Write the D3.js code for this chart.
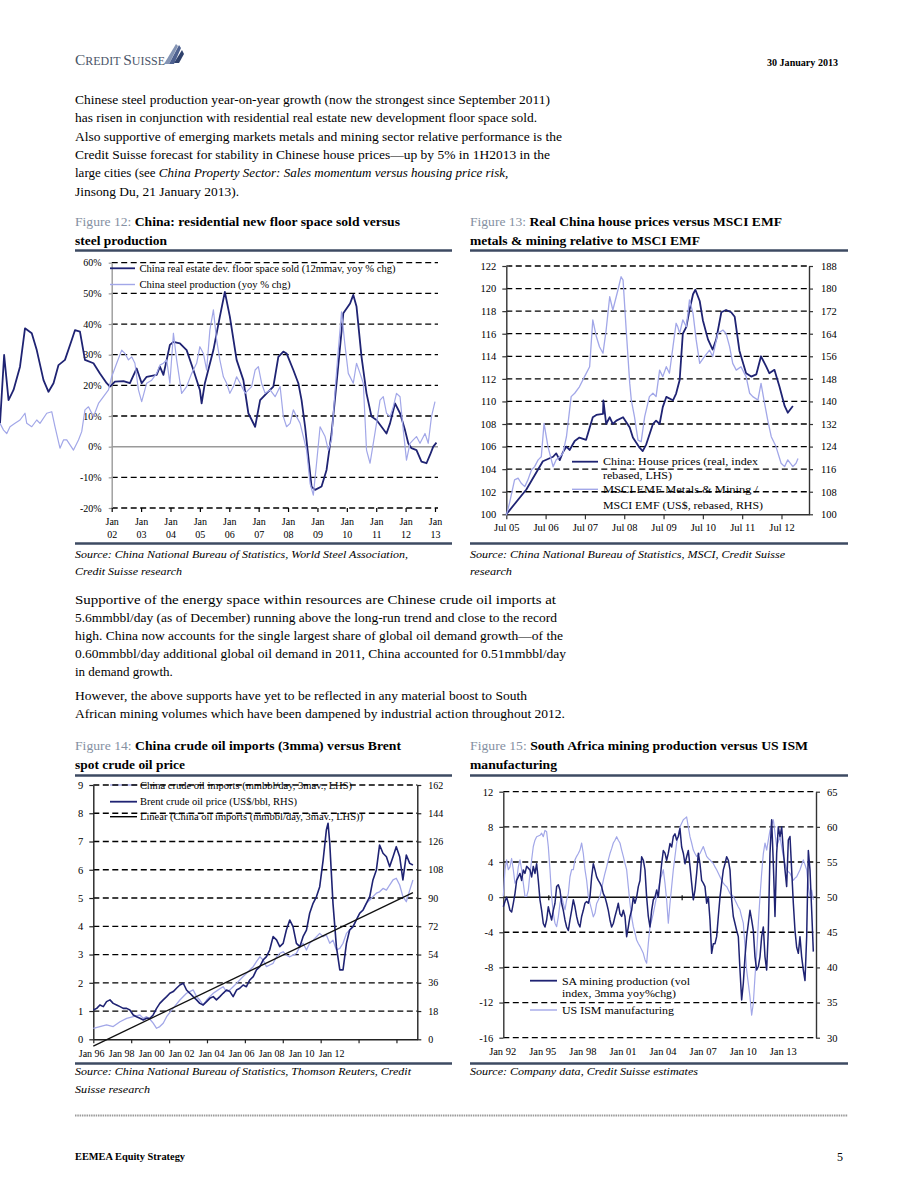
<!DOCTYPE html>
<html><head><meta charset="utf-8">
<script src="https://cdn.jsdelivr.net/npm/d3@7"></script>
<style>
body{margin:0;background:#fff}
svg{display:block}
</style></head><body><svg id="c" width="920" height="1191"></svg>
<script>
// ---------------- DATA ----------------
// Figure 12
const fig12Ticks = [-20,-10,0,10,20,30,40,50,60];
const fig12Years = [2002,2003,2004,2005,2006,2007,2008,2009,2010,2011,2012,2013];
const floorYears = [1998.20,1998.34,1998.49,1998.66,1998.88,1999.05,1999.28,1999.45,1999.68,1999.85,2000.02,2000.19,2000.41,2000.64,2000.75,2000.92,2001.09,2001.38,2001.60,2001.83,2001.94,2002.11,2002.40,2002.62,2002.85,2003.02,2003.19,2003.53,2003.64,2003.76,2003.98,2004.10,2004.32,2004.55,2004.78,2005.00,2005.06,2005.17,2005.46,2005.68,2005.85,2006.02,2006.25,2006.48,2006.65,2006.88,2007.05,2007.27,2007.50,2007.67,2007.84,2007.95,2008.18,2008.35,2008.46,2008.58,2008.69,2008.80,2008.92,2009.14,2009.31,2009.48,2009.65,2009.88,2010.11,2010.22,2010.33,2010.50,2010.67,2010.84,2011.01,2011.18,2011.35,2011.47,2011.64,2011.81,2011.98,2012.09,2012.20,2012.37,2012.54,2012.71,2012.83,2012.94,2013.05];
const floorSold = [7.6,29.9,15.2,18.5,26.1,38.6,37.0,31.5,21.7,17.9,20.7,26.6,28.3,34.8,38.0,37.5,28.3,27.2,23.9,20.7,19.6,21.2,21.4,20.7,25.5,20.7,22.8,23.4,26.1,23.4,33.2,34.2,33.7,31.5,25.0,18.5,14.1,20.7,31.5,42.4,50.5,42.4,28.3,21.7,10.9,6.5,15.2,17.4,19.6,29.3,31.0,30.4,25.0,20.7,15.2,6.5,-3.3,-13.0,-14.1,-13.0,-7.6,4.3,20.7,43.5,46.7,49.5,45.7,29.3,17.4,9.8,8.7,6.5,4.3,7.6,14.1,10.9,5.4,1.1,-0.5,-1.1,-4.9,-5.4,-2.7,0.0,1.3];
const steelYears = [1998.20,1998.32,1998.43,1998.54,1998.71,1998.88,1999.05,1999.11,1999.28,1999.45,1999.56,1999.79,1999.96,2000.07,2000.24,2000.36,2000.47,2000.70,2000.87,2000.98,2001.09,2001.21,2001.38,2001.55,2001.72,2001.89,2002.00,2002.17,2002.34,2002.45,2002.57,2002.68,2002.79,2002.91,2003.02,2003.19,2003.36,2003.53,2003.64,2003.76,2003.87,2003.98,2004.10,2004.21,2004.38,2004.55,2004.72,2004.89,2005.00,2005.12,2005.23,2005.34,2005.46,2005.57,2005.68,2005.80,2005.91,2006.02,2006.14,2006.25,2006.37,2006.54,2006.65,2006.76,2006.88,2006.99,2007.10,2007.22,2007.39,2007.56,2007.73,2007.84,2007.95,2008.07,2008.18,2008.29,2008.41,2008.52,2008.63,2008.75,2008.86,2008.97,2009.09,2009.26,2009.37,2009.48,2009.60,2009.71,2009.82,2009.93,2010.05,2010.22,2010.33,2010.45,2010.56,2010.67,2010.79,2010.90,2011.01,2011.13,2011.24,2011.35,2011.47,2011.58,2011.69,2011.81,2011.92,2012.03,2012.15,2012.26,2012.37,2012.49,2012.66,2012.77,2012.88,2013.00];
const steelProd = [7.6,5.4,4.3,6.5,7.6,8.7,10.9,7.6,6.5,8.7,7.6,10.9,11.4,6.5,-0.5,2.2,2.2,-1.1,2.2,4.9,12.0,13.0,9.8,14.1,16.3,18.5,22.8,27.2,31.5,30.4,28.3,29.3,27.2,18.5,14.7,20.7,21.7,23.9,26.6,27.2,28.3,20.7,37.0,28.3,17.4,19.6,23.9,27.2,32.6,30.4,25.0,38.0,44.6,34.8,28.3,22.8,20.7,17.4,19.6,22.8,20.7,17.4,18.5,19.6,25.0,26.1,20.7,17.4,18.5,16.3,19.6,9.8,6.5,7.6,12.0,9.8,7.6,3.3,-1.1,-12.0,-15.8,-5.4,6.5,3.3,-1.1,2.2,18.5,31.5,44.0,33.7,23.9,20.7,27.2,23.9,20.7,-1.1,-5.4,1.1,7.6,15.2,16.3,10.9,9.8,13.0,17.4,16.3,5.4,-4.4,1.1,2.2,3.3,1.1,4.3,1.1,9.8,14.7];

// Figure 13
const fig13LeftTicks = [100,102,104,106,108,110,112,114,116,118,120,122];
const fig13RightTicks = [100,108,116,124,132,140,148,156,164,172,180,188];
const fig13Jul = [2005.5,2006.5,2007.5,2008.5,2009.5,2010.5,2011.5,2012.5];
const houseYears = [2005.50,2006.01,2006.43,2006.69,2006.77,2006.86,2006.94,2007.03,2007.11,2007.24,2007.36,2007.53,2007.70,2007.79,2007.96,2007.97,2008.04,2008.13,2008.21,2008.30,2008.47,2008.64,2008.72,2008.89,2008.97,2009.06,2009.23,2009.31,2009.40,2009.48,2009.57,2009.74,2009.82,2009.91,2009.99,2010.08,2010.16,2010.25,2010.31,2010.42,2010.50,2010.63,2010.75,2010.84,2010.97,2011.09,2011.22,2011.31,2011.43,2011.60,2011.73,2011.86,2011.98,2012.11,2012.19,2012.32,2012.45,2012.58,2012.66,2012.79];
const housePrices = [100.0,102.2,104.7,105.1,105.4,104.8,105.5,106.0,105.7,106.5,106.8,106.6,108.6,108.8,108.9,110.1,108.0,108.6,108.0,108.3,108.6,107.7,106.8,105.9,105.6,106.2,108.0,108.3,108.0,109.5,110.4,110.1,110.7,111.9,116.0,116.6,118.1,119.5,119.9,118.9,117.2,115.5,114.6,115.5,117.9,118.1,117.9,117.5,114.5,112.5,112.2,112.4,114.0,113.1,112.5,112.8,111.3,109.6,109.0,109.6];
const msciYears = [2005.50,2005.58,2005.71,2005.80,2005.88,2005.97,2006.05,2006.14,2006.22,2006.31,2006.39,2006.46,2006.56,2006.69,2006.77,2006.86,2006.94,2007.03,2007.15,2007.24,2007.36,2007.49,2007.62,2007.70,2007.79,2007.87,2007.96,2008.04,2008.13,2008.21,2008.34,2008.42,2008.47,2008.55,2008.64,2008.68,2008.76,2008.85,2008.93,2009.02,2009.14,2009.23,2009.31,2009.40,2009.48,2009.57,2009.65,2009.74,2009.82,2009.86,2009.91,2009.99,2010.08,2010.16,2010.25,2010.33,2010.42,2010.54,2010.67,2010.75,2010.88,2011.01,2011.09,2011.18,2011.26,2011.35,2011.47,2011.60,2011.69,2011.77,2011.90,2011.98,2012.07,2012.15,2012.24,2012.36,2012.49,2012.58,2012.66,2012.79,2012.87,2012.92];
const msciRel = [99.6,103.9,112.2,112.8,111.0,109.8,112.2,115.7,116.9,119.3,120.4,132.2,124.0,116.9,119.3,120.4,121.6,127.5,141.7,142.9,145.2,148.8,152.3,168.9,163.0,159.4,157.1,165.3,177.1,172.4,179.5,184.2,183.0,165.3,146.4,140.5,134.6,126.3,125.7,134.6,141.7,142.9,141.7,151.1,148.8,152.3,150.0,159.4,167.7,166.5,164.1,168.9,166.5,176.0,171.2,161.8,153.5,155.9,158.2,155.9,164.1,165.3,164.1,159.4,153.5,151.1,152.3,148.8,142.9,141.7,140.5,146.4,139.3,133.4,127.5,124.0,118.1,116.9,119.3,116.9,118.1,119.8];

// Figure 14
const fig14LeftTicks = [0,1,2,3,4,5,6,7,8,9];
const fig14RightTicks = [0,18,36,54,72,90,108,126,144,162];
const fig14TickYears = [1996,1998,2000,2002,2004,2006,2008,2010,2012];
const fig14Labels = ["Jan 96","Jan 98","Jan 00","Jan 02","Jan 04","Jan 06","Jan 08","Jan 10","Jan 12"];
const importYears = [1996.00,1996.35,1996.70,1997.05,1997.41,1997.76,1998.11,1998.46,1998.64,1998.81,1998.99,1999.16,1999.34,1999.51,1999.69,1999.87,2000.22,2000.57,2000.92,2001.27,2001.45,2001.62,2001.80,2001.98,2002.15,2002.33,2002.59,2002.85,2003.03,2003.21,2003.38,2003.56,2003.73,2003.91,2004.08,2004.26,2004.44,2004.61,2004.79,2004.96,2005.14,2005.31,2005.49,2005.67,2005.84,2006.02,2006.19,2006.37,2006.54,2006.72,2006.90,2007.07,2007.25,2007.42,2007.60,2007.78,2007.95,2008.13,2008.30,2008.48,2008.65,2008.83,2009.01,2009.18,2009.36,2009.53,2009.71,2009.88,2010.06,2010.24,2010.41,2010.59,2010.76,2010.94,2011.11,2011.29,2011.47,2011.64,2011.82,2011.99,2012.17,2012.34,2012.52,2012.70,2012.87];
const oilImports = [0.39,0.45,0.51,0.45,0.62,0.74,0.80,0.86,0.74,0.80,0.71,0.57,0.39,0.45,0.57,0.80,1.10,1.39,1.63,1.75,1.51,1.39,1.21,1.39,1.51,1.63,1.75,1.86,1.69,1.75,1.86,1.98,2.10,2.22,2.33,2.45,2.57,2.75,2.92,2.81,2.57,2.63,2.69,2.92,3.04,3.10,2.98,2.92,2.98,3.04,3.28,3.40,3.16,3.40,3.51,3.63,3.75,3.63,3.69,3.40,3.51,3.16,3.22,3.40,3.75,3.87,3.99,4.22,4.46,4.58,4.81,4.93,5.05,5.17,5.22,5.34,5.28,5.46,5.64,5.70,5.46,5.05,4.87,5.28,5.64];
const brentYears = [1996.00,1996.18,1996.35,1996.53,1996.70,1996.88,1997.05,1997.23,1997.41,1997.58,1997.76,1997.93,1998.11,1998.28,1998.46,1998.64,1998.81,1998.99,1999.16,1999.34,1999.51,1999.69,1999.87,2000.04,2000.22,2000.39,2000.57,2000.75,2000.92,2001.10,2001.27,2001.45,2001.62,2001.80,2001.98,2002.15,2002.33,2002.50,2002.68,2002.85,2003.03,2003.21,2003.38,2003.56,2003.73,2003.91,2004.08,2004.26,2004.44,2004.61,2004.79,2004.96,2005.14,2005.31,2005.49,2005.67,2005.84,2006.02,2006.19,2006.37,2006.54,2006.72,2006.90,2007.07,2007.25,2007.42,2007.60,2007.78,2007.95,2008.13,2008.30,2008.39,2008.48,2008.65,2008.83,2009.01,2009.18,2009.36,2009.53,2009.71,2009.88,2010.06,2010.24,2010.41,2010.59,2010.76,2010.94,2011.11,2011.29,2011.47,2011.64,2011.82,2011.99,2012.17,2012.34,2012.52,2012.70,2012.87];
const brentPrice = [18.7,19.7,21.9,20.8,24.0,25.1,22.9,21.9,20.8,19.7,19.7,18.7,15.5,14.4,13.4,12.3,13.4,13.4,15.5,19.7,22.9,25.1,27.2,29.3,30.4,32.5,34.6,35.7,31.4,29.3,27.2,25.1,22.9,21.9,24.0,26.1,27.2,25.1,27.2,29.3,31.4,30.4,27.2,31.4,32.5,34.6,33.5,37.8,39.9,44.2,46.3,50.5,52.7,56.9,65.4,63.3,59.0,61.1,69.6,76.0,71.8,61.1,59.0,65.4,69.6,80.3,86.6,90.9,97.2,114.2,133.3,137.6,124.8,86.6,59.0,44.2,44.2,61.1,69.6,71.8,76.0,80.3,82.4,86.6,90.9,101.5,107.9,123.8,118.5,116.3,110.0,116.3,122.7,116.3,101.5,117.4,112.1,111.0];
const trendYears = [1996.0, 2012.87];
const trendValues = [-0.24, 5.19];

// Figure 15 (one value per observation, category axis)
const fig15LeftTicks = [-16,-12,-8,-4,0,4,8,12];
const fig15RightTicks = [30,35,40,45,50,55,60,65];
const fig15Labels = ["Jan 92","Jan 95","Jan 98","Jan 01","Jan 04","Jan 07","Jan 10","Jan 13"];
const saMining = [-1.1,-0.5,0.0,-0.7,-1.5,-1.7,-0.7,0.4,1.9,2.3,2.7,1.9,3.1,2.7,3.5,3.3,3.1,2.3,3.5,2.7,3.8,1.9,-0.3,-1.5,-3.0,-3.4,-2.6,-1.1,-1.9,-2.6,-1.5,-0.7,1.2,1.4,0.8,-0.7,-1.5,-2.6,-3.4,-3.8,-2.6,-1.5,-0.3,-1.1,-2.2,-3.0,-3.4,-2.2,-1.5,-0.7,-0.5,-0.7,0.0,2.3,3.8,3.1,2.3,1.9,1.6,1.2,0.4,0.0,-0.7,-1.5,-2.6,-3.4,-3.0,-2.2,-1.5,-0.7,-1.9,-2.2,-1.5,-2.2,-4.5,-3.4,-2.2,-1.5,0.0,-0.7,0.0,1.2,1.9,4.6,4.2,3.1,0.0,-2.2,-3.4,-1.5,-0.3,0.0,0.8,0.0,1.9,3.8,5.3,5.0,4.2,5.0,6.1,5.7,6.9,7.2,6.5,6.9,7.8,5.7,5.0,3.8,4.6,5.3,3.5,1.6,-0.3,0.8,2.7,5.0,3.8,1.9,1.6,1.2,-0.7,0.0,-2.6,-6.4,-5.3,-5.3,-4.5,-2.2,0.0,1.6,3.1,3.8,4.6,4.2,3.1,-0.3,-2.2,-3.0,-3.8,-4.5,-8.3,-11.7,-9.8,-6.8,-4.5,-3.0,-1.5,-2.6,-3.8,-6.8,-8.3,-7.9,-6.8,-4.5,-3.4,-6.8,-8.3,-3.8,5.0,8.8,3.8,-2.2,5.0,8.0,6.9,8.0,5.3,3.1,1.2,6.5,6.9,3.1,-0.7,-3.8,-5.7,-6.4,-4.5,-6.8,-8.3,-9.5,-4.5,5.3,3.1,-1.5,-6.2];
const usIsm = [50.1,53.9,55.3,53.9,54.3,55.5,53.9,52.0,52.4,54.3,55.3,53.9,52.0,50.1,50.1,51.0,53.4,55.3,57.2,58.1,58.6,58.7,58.8,59.1,58.6,59.5,59.3,57.2,53.9,50.1,47.7,46.3,45.8,47.2,49.1,50.1,49.1,48.2,49.6,50.5,52.9,53.9,53.9,55.3,55.8,56.2,56.7,57.7,56.2,53.9,52.4,50.1,49.1,48.2,47.2,47.7,49.1,49.6,50.1,51.2,52.4,53.4,54.3,55.3,56.2,56.9,57.7,58.1,58.6,58.1,57.7,56.7,55.8,54.8,53.9,51.5,49.1,47.2,45.8,44.9,43.9,43.4,43.0,42.5,42.0,41.1,40.6,43.4,45.8,46.7,47.7,48.9,50.1,51.2,52.4,53.1,53.9,52.0,49.6,46.3,49.1,51.5,53.9,55.8,57.7,58.8,60.0,60.5,61.0,61.2,61.4,60.0,58.6,57.7,56.7,56.2,55.8,56.0,56.2,56.7,57.2,56.5,55.8,55.5,55.3,55.0,54.8,54.3,53.9,53.4,52.9,52.4,52.0,51.7,51.5,51.0,50.5,50.3,50.1,49.6,49.1,48.6,48.2,47.2,46.3,43.0,39.6,37.7,35.8,33.2,34.9,38.7,42.0,46.3,50.1,53.4,56.2,57.7,56.7,58.1,59.5,60.3,61.0,59.1,57.2,57.9,58.6,57.2,55.8,54.8,53.9,53.6,53.4,52.9,52.4,52.7,52.9,53.4,53.9,54.6,55.3,54.6,53.9,51.5,50.1,51.0,49.6];

// Text
const para1 = [
  "Chinese steel production year-on-year growth (now the strongest since September 2011)",
  "has risen in conjunction with residential real estate new development floor space sold.",
  "Also supportive of emerging markets metals and mining sector relative performance is the",
  "Credit Suisse forecast for stability in Chinese house prices\u2014up by 5% in 1H2013 in the",
  [["large cities (see "],["China Property Sector: Sales momentum versus housing price risk,",{"font-style":"italic"}]],
  "Jinsong Du, 21 January 2013)."
];
const para1W = [475,462,487,475,null,164];
const para2 = [
  "Supportive of the energy space within resources are Chinese crude oil imports at",
  "5.6mmbbl/day (as of December) running above the long-run trend and close to the record",
  "high. China now accounts for the single largest share of global oil demand growth\u2014of the",
  "0.60mmbbl/day additional global oil demand in 2011, China accounted for 0.51mmbbl/day",
  "in demand growth."
];
const para2W = [481,482,488,491,null];
const para3 = [
  "However, the above supports have yet to be reflected in any material boost to South",
  "African mining volumes which have been dampened by industrial action throughout 2012."
];
const para3W = [452,490];

// ---------------- DRAWING ----------------
const DARK = '#1f2373', LIGHT = '#a2a7e8', RULE = '#3d4a62', FIGLBL = '#8590a2';
const SERIF = '"Liberation Serif","Times New Roman",serif';
const svg = d3.select('#c');
svg.append('rect').attr('width',920).attr('height',1191).attr('fill','#fff');

function addText(g, x, y, parts, o) {
  o = o || {};
  const t = g.append('text').attr('x', x).attr('y', y)
    .attr('font-family', SERIF).attr('font-size', o.size || 13).attr('fill', o.fill || '#000');
  if (o.weight) t.attr('font-weight', o.weight);
  if (o.style) t.attr('font-style', o.style);
  if (o.anchor) t.attr('text-anchor', o.anchor);
  if (typeof parts === 'string') t.text(parts);
  else parts.forEach(p => { const s = t.append('tspan').text(p[0]); const st = p[1] || {}; for (const k in st) s.attr(k, st[k]); });
  if (o.w) t.attr('textLength', o.w).attr('lengthAdjust', 'spacingAndGlyphs');
  return t;
}
function hline(g, x1, x2, y, color, w, dash) {
  const l = g.append('line').attr('x1', x1).attr('x2', x2).attr('y1', y).attr('y2', y)
    .attr('stroke', color).attr('stroke-width', w);
  if (dash) l.attr('stroke-dasharray', dash);
  return l;
}
function styleAxis(sel, color, size) {
  sel.select('.domain').attr('stroke', color).attr('stroke-width', 1.4);
  sel.selectAll('.tick line').attr('stroke', color).attr('stroke-width', 1.2);
  sel.selectAll('.tick text').attr('font-family', SERIF).attr('font-size', size).attr('fill', '#000');
}
function grid(g, vals, y, x1, x2) {
  g.append('g').selectAll('line').data(vals).join('line')
    .attr('x1', x1).attr('x2', x2).attr('y1', d => y(d)).attr('y2', d => y(d))
    .attr('stroke', '#000').attr('stroke-width', 1.3).attr('stroke-dasharray', '6,3.5');
}
function series(g, xs, ys, xScale, yScale, color, width) {
  const pts = xs.map((d, i) => [d, ys[i]]);
  g.append('path').datum(pts)
    .attr('d', d3.line().x(d => xScale(d[0])).y(d => yScale(d[1])))
    .attr('fill', 'none').attr('stroke', color).attr('stroke-width', width)
    .attr('stroke-linejoin', 'round');
}
const plain = d => String(d);

// Header
const hdr = svg.append('g');
const logo = hdr.append('text').attr('x', 75).attr('y', 65).attr('font-family', SERIF).attr('fill', '#4a5568')
  .attr('textLength', 90).attr('lengthAdjust', 'spacingAndGlyphs');
logo.append('tspan').attr('font-size', 15.5).text('C');
logo.append('tspan').attr('font-size', 12).text('REDIT ');
logo.append('tspan').attr('font-size', 15.5).text('S');
logo.append('tspan').attr('font-size', 12).text('UISSE');
hdr.append('polygon').attr('points', '164,64 176,44 178,46 169,64').attr('fill', '#8494b4');
hdr.append('polygon').attr('points', '169,64 179,45 181,48 174,64').attr('fill', '#4e6190');
hdr.append('polygon').attr('points', '174,63 182,50 184,54 179,63').attr('fill', '#2f416c');
addText(hdr, 838, 66, '30 January 2013', {size: 10, weight: 'bold', anchor: 'end', w: 71});

// Paragraphs
const body = svg.append('g');
para1.forEach((l, i) => addText(body, 75, 104 + i * 18.3, l, {size: 13, w: para1W[i]}));
para2.forEach((l, i) => addText(body, 75, 603.5 + i * 18.2, l, {size: 13, w: para2W[i]}));
para3.forEach((l, i) => addText(body, 75, 699.5 + i * 18.5, l, {size: 13, w: para3W[i]}));

// Figure titles, rules, sources
function figTitle(x, y, label, l1, l2, w1, w2) {
  addText(svg, x, y, [[label + ' ', {fill: FIGLBL, 'font-weight': 'normal'}], [l1, {'font-weight': 'bold'}]], {size: 12.5, w: w1});
  addText(svg, x, y + 19, l2, {size: 12.5, weight: 'bold', w: w2});
}
figTitle(75, 226, 'Figure 12:', 'China: residential new floor space sold versus', 'steel production', 325, 92);
figTitle(470, 226, 'Figure 13:', 'Real China house prices versus MSCI EMF', 'metals & mining relative to MSCI EMF', 312, 230);
figTitle(75, 750, 'Figure 14:', 'China crude oil imports (3mma) versus Brent', 'spot crude oil price', 326, 110);
figTitle(470, 750, 'Figure 15:', 'South Africa mining production versus US ISM', 'manufacturing', 338, 87);
[[75,452,250.5],[470,848,250.5],[75,452,543.5],[470,848,543.5],[75,452,775.5],[470,848,775.5],[75,452,1063.5],[470,848,1063.5]]
  .forEach(r => hline(svg, r[0], r[1], r[2], RULE, 2.5));
addText(svg, 75, 558, 'Source: China National Bureau of Statistics, World Steel Association,', {size: 11, style: 'italic', w: 333});
addText(svg, 75, 575, 'Credit Suisse research', {size: 11, style: 'italic', w: 107});
addText(svg, 470, 558, 'Source: China National Bureau of Statistics, MSCI, Credit Suisse', {size: 11, style: 'italic', w: 315});
addText(svg, 470, 575, 'research', {size: 11, style: 'italic', w: 42});
addText(svg, 75, 1075, 'Source: China National Bureau of Statistics, Thomson Reuters, Credit', {size: 11, style: 'italic', w: 336});
addText(svg, 75, 1093, 'Suisse research', {size: 11, style: 'italic', w: 75});
addText(svg, 470, 1075, 'Source: Company data, Credit Suisse estimates', {size: 11, style: 'italic', w: 228});

// Footer
hline(svg, 75, 848, 1115.5, '#9a9a9a', 2, '1.5,0.8');
addText(svg, 75, 1160, 'EEMEA Equity Strategy', {size: 9.5, weight: 'bold', w: 110});
addText(svg, 843, 1161, '5', {size: 12, anchor: 'end'});

// ---------- Figure 12 ----------
{
  const g = svg.append('g');
  const x = d3.scaleLinear().domain([2002, 2013]).range([111.7, 435]);
  const y = d3.scaleLinear().domain([-20, 60]).range([508, 262.7]);
  grid(g, fig12Ticks.filter(d => d !== 0), y, x(2002), 438);
  hline(g, x(2002), 438, y(0), '#9a9a9a', 1.6);
  const ay = g.append('g').attr('transform', `translate(${x(2002)},0)`)
    .call(d3.axisLeft(y).tickValues(fig12Ticks).tickFormat(d => d + '%').tickSizeInner(3).tickSizeOuter(0).tickPadding(7));
  styleAxis(ay, '#9a9a9a', 10);
  const ax = g.append('g').attr('transform', `translate(0,${y(-20)})`)
    .call(d3.axisBottom(x).tickValues(fig12Years).tickSizeInner(4).tickSizeOuter(0));
  ax.select('.domain').remove();
  styleAxis(ax, '#000', 10);
  ax.selectAll('.tick text').each(function(d) {
    const t = d3.select(this); t.text(null).attr('y', null).attr('dy', null);
    t.append('tspan').attr('x', 0).attr('y', 17).text('Jan');
    t.append('tspan').attr('x', 0).attr('y', 29.5).text(String(d % 100).padStart(2, '0'));
  });
  // legend
  hline(g, 110, 135, 268.3, DARK, 1.8);
  addText(g, 139.5, 271.5, 'China real estate dev. floor space sold (12mmav, yoy % chg)', {size: 9.5, w: 256});
  hline(g, 110, 135, 284.5, LIGHT, 1.4);
  addText(g, 139.5, 287.7, 'China steel production (yoy % chg)', {size: 9.5, w: 151});
  series(g, floorYears, floorSold, x, y, DARK, 1.8);
  series(g, steelYears, steelProd, x, y, LIGHT, 1.2);
}

// ---------- Figure 13 ----------
{
  const g = svg.append('g');
  const x = d3.scaleLinear().domain([2005.5, 2013.2]).range([506.3, 809]);
  const yL = d3.scaleLinear().domain([100, 122]).range([514.3, 266]);
  const yR = d3.scaleLinear().domain([100, 188]).range([514.3, 266]);
  hline(g, 572, 598, 461.7, DARK, 1.8);
  addText(g, 603, 465.2, 'China: House prices (real, index', {size: 10.5, w: 155});
  addText(g, 603, 479, 'rebased, LHS)', {size: 10.5, w: 69});
  hline(g, 572, 598, 489.3, LIGHT, 1.4);
  addText(g, 603, 492.8, 'MSCI EMF Metals & Mining /', {size: 10.5, w: 155});
  addText(g, 603, 508.5, 'MSCI EMF (US$, rebased, RHS)', {size: 10.5, w: 160});
  grid(g, fig13LeftTicks.filter(d => d !== 100), yL, 506.3, 809);
  const al = g.append('g').attr('transform', 'translate(506.3,0)')
    .call(d3.axisLeft(yL).tickValues(fig13LeftTicks).tickFormat(plain).tickSizeInner(4).tickSizeOuter(0).tickPadding(6));
  styleAxis(al, '#333', 10.5);
  const ar = g.append('g').attr('transform', 'translate(809,0)')
    .call(d3.axisRight(yR).tickValues(fig13RightTicks).tickFormat(plain).tickSizeInner(4).tickSizeOuter(0).tickPadding(8));
  styleAxis(ar, '#333', 10.5);
  const ab = g.append('g').attr('transform', 'translate(0,514.3)')
    .call(d3.axisBottom(x).tickValues(fig13Jul).tickSizeInner(5).tickSizeOuter(0).tickPadding(4)
      .tickFormat(d => 'Jul ' + String(Math.floor(d) % 100).padStart(2, '0')));
  styleAxis(ab, '#333', 10.5);
  series(g, houseYears, housePrices, x, yL, DARK, 1.8);
  series(g, msciYears, msciRel, x, yR, LIGHT, 1.3);
}

// ---------- Figure 14 ----------
{
  const g = svg.append('g');
  const x = d3.scaleLinear().domain([1996, 2013.1]).range([93.3, 417.3]);
  const yL = d3.scaleLinear().domain([0, 9]).range([1039.3, 785]);
  const yR = d3.scaleLinear().domain([0, 162]).range([1039.3, 785]);
  hline(g, 110, 137, 785, LIGHT, 1.4);
  addText(g, 140, 788.5, 'China crude oil imports (mmbbl/day, 3mav., LHS)', {size: 10, w: 212});
  hline(g, 110, 137, 801.7, DARK, 1.8);
  addText(g, 140, 805, 'Brent crude oil price (US$/bbl, RHS)', {size: 10, w: 157});
  hline(g, 110, 137, 816.7, '#000', 1.4);
  addText(g, 140, 820, 'Linear (China oil imports (mmbbl/day, 3mav., LHS))', {size: 10, w: 223});
  grid(g, fig14LeftTicks.filter(d => d !== 0), yL, 93.3, 417.3);
  const al = g.append('g').attr('transform', 'translate(93.3,0)')
    .call(d3.axisLeft(yL).tickValues(fig14LeftTicks).tickFormat(plain).tickSizeInner(4).tickSizeOuter(0).tickPadding(6));
  styleAxis(al, '#222', 10.5);
  const ar = g.append('g').attr('transform', 'translate(417.3,0)')
    .call(d3.axisRight(yR).tickValues(fig14RightTicks).tickFormat(plain).tickSizeInner(4).tickSizeOuter(0).tickPadding(7));
  styleAxis(ar, '#222', 10);
  const ab = g.append('g').attr('transform', 'translate(0,1039.3)')
    .call(d3.axisBottom(x).tickValues(fig14TickYears).tickSizeInner(4).tickSizeOuter(0).tickFormat(''));
  styleAxis(ab, '#222', 10);
  const lab = d3.scalePoint().domain(fig14Labels).range([91.7, 331.7]);
  g.append('g').selectAll('text').data(fig14Labels).join('text')
    .attr('x', d => lab(d)).attr('y', 1056.5).attr('text-anchor', 'middle')
    .attr('font-family', SERIF).attr('font-size', 10).text(d => d);
  series(g, importYears, oilImports, x, yL, LIGHT, 1.3);
  series(g, brentYears, brentPrice, x, yR, DARK, 1.6);
  series(g, trendYears, trendValues, x, yL, '#111', 1.3);
}

// ---------- Figure 15 ----------
{
  const g = svg.append('g');
  const x = d3.scaleLinear().domain([0, 187.6]).range([503.3, 816]);
  const yL = d3.scaleLinear().domain([-16, 12]).range([1037.7, 791.7]);
  const yR = d3.scaleLinear().domain([30, 65]).range([1037.7, 791.7]);
  grid(g, fig15LeftTicks.filter(d => d !== 0), yL, 503.3, 816);
  hline(g, 503.3, 816, yL(0), '#111', 1.5);
  const az = g.append('g').attr('transform', `translate(0,${yL(0) - 2})`)
    .call(d3.axisBottom(x).tickValues([27, 107]).tickSizeInner(5).tickSizeOuter(0).tickFormat(''));
  az.select('.domain').remove();
  styleAxis(az, '#111', 10);
  const al = g.append('g').attr('transform', 'translate(503.3,0)')
    .call(d3.axisLeft(yL).tickValues(fig15LeftTicks).tickFormat(plain).tickSizeInner(4).tickSizeOuter(0).tickPadding(6));
  styleAxis(al, '#333', 10.5);
  const ar = g.append('g').attr('transform', 'translate(816,0)')
    .call(d3.axisRight(yR).tickValues(fig15RightTicks).tickFormat(plain).tickSizeInner(4).tickSizeOuter(0).tickPadding(7));
  styleAxis(ar, '#333', 10.5);
  const lab = d3.scalePoint().domain(fig15Labels).range([502.7, 783.3]);
  g.append('g').selectAll('text').data(fig15Labels).join('text')
    .attr('x', d => lab(d)).attr('y', 1055).attr('text-anchor', 'middle')
    .attr('font-family', SERIF).attr('font-size', 10.5).text(d => d);
  hline(g, 530, 557, 980.7, DARK, 1.8);
  addText(g, 562, 984.5, 'SA mining production (vol', {size: 10.5, w: 128});
  addText(g, 562, 996.8, 'index, 3mma yoy%chg)', {size: 10.5, w: 114});
  hline(g, 530, 557, 1010, LIGHT, 1.4);
  addText(g, 562, 1013.6, 'US ISM manufacturing', {size: 10.5, w: 112});
  const idx = saMining.map((d, i) => i);
  series(g, idx, usIsm, x, yR, LIGHT, 1.2);
  series(g, idx, saMining, x, yL, DARK, 1.5);
}
</script></body></html>
